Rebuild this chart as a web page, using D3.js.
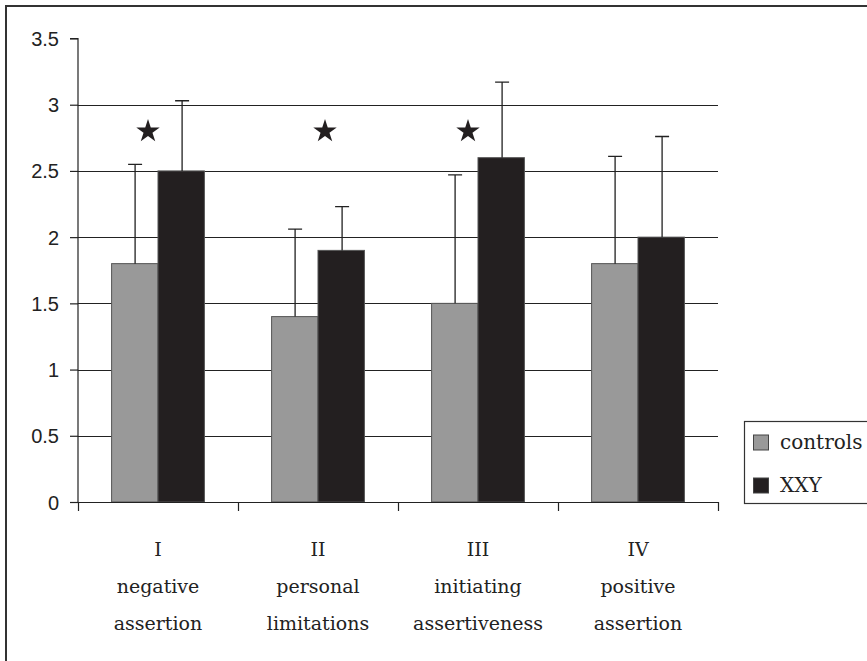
<!DOCTYPE html>
<html><head><meta charset="utf-8">
<script src="https://cdn.jsdelivr.net/npm/d3@7"></script>
<style>
body{margin:0;background:#fff}svg{display:block}
.serif{font-family:"DejaVu Serif",serif}
.sans{font-family:"Liberation Sans",Arial,sans-serif}
</style>
</head><body>
<svg id="c" width="867" height="661"></svg>
<script>
const categories = ["I", "II", "III", "IV"];
const categoryLines = [["negative", "assertion"], ["personal", "limitations"], ["initiating", "assertiveness"], ["positive", "assertion"]];
const series = ["controls", "XXY"];
const controlsMean = [1.8, 1.4, 1.5, 1.8];
const controlsErrTop = [2.55, 2.06, 2.47, 2.61];
const xxyMean = [2.5, 1.9, 2.6, 2.0];
const xxyErrTop = [3.03, 2.23, 3.17, 2.76];
const starCategories = ["I", "II", "III"];
const starValue = 2.8;
const starOffset = [-10, 7, -10];
const yTicks = [0, 0.5, 1, 1.5, 2, 2.5, 3, 3.5];
const colors = {controls: "#999999", XXY: "#231f20"};

const svg = d3.select("#c");
const L = 78, R = 718, T = 38.5, B = 502;
const x = d3.scaleBand().domain(categories).range([L, R]).paddingInner(0.42).paddingOuter(0.21);
const xs = d3.scaleBand().domain(series).range([0, x.bandwidth()]);
const y = d3.scaleLinear().domain([0, 3.5]).range([B, T]);

// outer frame (top and left only)
svg.append("line").attr("x1", 5).attr("x2", 867).attr("y1", 6).attr("y2", 6).attr("stroke", "#333").attr("stroke-width", 2);
svg.append("line").attr("x1", 6).attr("x2", 6).attr("y1", 5).attr("y2", 661).attr("stroke", "#333").attr("stroke-width", 2);

// gridlines
svg.append("g").selectAll("line").data(yTicks.filter(d => d > 0 && d < 3.5)).join("line")
  .attr("x1", L).attr("x2", R).attr("y1", d => Math.round(y(d)) + 0.5).attr("y2", d => Math.round(y(d)) + 0.5)
  .attr("stroke", "#222").attr("stroke-width", 1.2);

const data = categories.map((c, i) => ({c, vals: [
  {s: "controls", v: controlsMean[i], e: controlsErrTop[i]},
  {s: "XXY", v: xxyMean[i], e: xxyErrTop[i]}]}));

const g = svg.append("g").selectAll("g").data(data).join("g").attr("transform", d => `translate(${x(d.c)},0)`);
g.selectAll("rect").data(d => d.vals).join("rect")
  .attr("x", d => xs(d.s)).attr("width", xs.bandwidth())
  .attr("y", d => y(d.v)).attr("height", d => B - y(d.v))
  .attr("fill", d => colors[d.s]).attr("stroke", "#555").attr("stroke-width", 1);
// error bars
g.selectAll("path.err").data(d => d.vals).join("path").attr("class", "err")
  .attr("d", d => {
    const cx = Math.round(xs(d.s) + xs.bandwidth() / 2) + 0.5;
    return `M${cx},${y(d.v)}V${y(d.e)}M${cx - 7},${y(d.e)}H${cx + 7}`;
  })
  .attr("stroke", "#222").attr("stroke-width", 1.3).attr("fill", "none");

// axes
const ya = d3.axisLeft(y).tickValues(yTicks).tickSize(8).tickFormat(d3.format("~g"));
const yg = svg.append("g").attr("transform", `translate(${L},0)`).call(ya)
  .attr("font-family", null).attr("font-size", null).attr("class", "sans");
yg.select(".domain").attr("d", `M-8,${T}H0V${B}`).attr("stroke", "#222").attr("stroke-width", 1.2);
yg.selectAll(".tick line").attr("stroke", "#222").attr("stroke-width", 1.2);
yg.selectAll(".tick text").attr("x", -19).attr("dy", "0.35em")
  .style("font-size", "20px").attr("fill", "#222");

const xBoundaries = d3.range(categories.length + 1).map(i => L + i * (R - L) / categories.length);
svg.append("line").attr("x1", L).attr("x2", R).attr("y1", B + 0.5).attr("y2", B + 0.5).attr("stroke", "#222").attr("stroke-width", 1.2);
svg.append("g").selectAll("line").data(xBoundaries).join("line")
  .attr("x1", d => d + 0.5).attr("x2", d => d + 0.5).attr("y1", B).attr("y2", B + 9)
  .attr("stroke", "#222").attr("stroke-width", 1.2);

// category labels
const lab = svg.append("g").attr("class", "serif").selectAll("text").data(categories).join("text")
  .attr("x", d => x(d) + x.bandwidth() / 2).attr("y", 556)
  .attr("text-anchor", "middle").style("font-size", "19px").attr("fill", "#222");
lab.selectAll("tspan").data((d, i) => [d, ...categoryLines[i]]).join("tspan")
  .attr("x", function() { return this.parentNode.getAttribute("x"); })
  .attr("dy", (d, i) => i === 0 ? 0 : 37).text(d => d);

// stars
const star = d3.symbol().type(d3.symbolStar).size(170);
svg.append("g").selectAll("path").data(starCategories).join("path")
  .attr("d", star)
  .attr("transform", (d, i) => `translate(${x(d) + x.bandwidth() / 2 + starOffset[i]},${y(starValue)})`)
  .attr("fill", "#231f20");

// legend
const lg = svg.append("g").attr("class", "serif");
lg.append("rect").attr("x", 744.5).attr("y", 421.5).attr("width", 130).attr("height", 82)
  .attr("fill", "#fff").attr("stroke", "#333").attr("stroke-width", 1.2);
const li = lg.selectAll("g").data(series).join("g").attr("transform", (d, i) => `translate(0,${442 + i * 43})`);
li.append("rect").attr("x", 753.5).attr("y", -7).attr("width", 15).attr("height", 15)
  .attr("fill", d => colors[d]).attr("stroke", "#444").attr("stroke-width", 1);
li.append("text").attr("x", 780).attr("y", 7).text(d => d)
  .style("font-size", "20px").attr("fill", "#222");
</script>
</body></html>
